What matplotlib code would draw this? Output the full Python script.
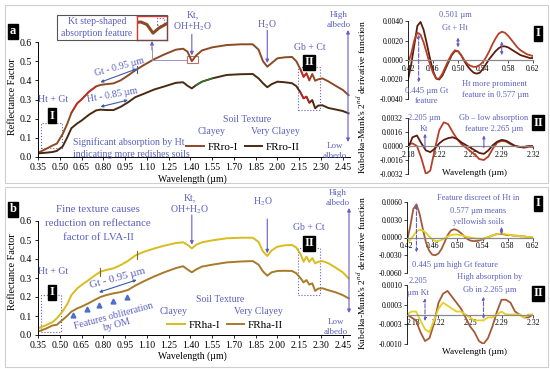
import numpy as np
import matplotlib.pyplot as plt
from matplotlib.patches import Rectangle, FancyArrowPatch
from matplotlib.lines import Line2D
from matplotlib.ticker import FormatStrFormatter

plt.rcParams['font.family'] = ['Liberation Serif', 'DejaVu Serif']
plt.rcParams['mathtext.fontset'] = 'stix'
plt.rcParams['axes.unicode_minus'] = False

W, H = 550, 369

# ---------------- data ----------------
wl = [0.35, 0.40, 0.45, 0.48, 0.52, 0.55, 0.58, 0.62, 0.65, 0.70, 0.75, 0.78, 0.82,
      0.87, 0.92, 0.97, 1.02, 1.08, 1.15, 1.22, 1.30, 1.35, 1.38, 1.41, 1.44, 1.48,
      1.55, 1.65, 1.75, 1.83, 1.87, 1.90, 1.93, 1.96, 2.00, 2.05, 2.10, 2.13, 2.16,
      2.18, 2.20, 2.22, 2.24, 2.26, 2.28, 2.31, 2.35, 2.40, 2.45, 2.49]
frro_1 = [0.022, 0.040, 0.060, 0.070, 0.120, 0.170, 0.230, 0.280, 0.300, 0.340, 0.368,
          0.376, 0.380, 0.384, 0.400, 0.425, 0.452, 0.480, 0.510, 0.535, 0.560, 0.565,
          0.550, 0.500, 0.530, 0.556, 0.572, 0.584, 0.588, 0.588, 0.560, 0.500, 0.471,
          0.490, 0.515, 0.520, 0.522, 0.500, 0.455, 0.418, 0.437, 0.400, 0.433, 0.398,
          0.405, 0.410, 0.395, 0.372, 0.350, 0.323]
frro_2 = [0.019, 0.022, 0.026, 0.032, 0.055, 0.100, 0.150, 0.175, 0.190, 0.220, 0.243,
          0.247, 0.245, 0.245, 0.262, 0.285, 0.312, 0.330, 0.352, 0.368, 0.387, 0.390,
          0.372, 0.358, 0.375, 0.393, 0.410, 0.428, 0.432, 0.433, 0.410, 0.385, 0.364,
          0.380, 0.393, 0.390, 0.385, 0.370, 0.335, 0.306, 0.315, 0.283, 0.297, 0.254,
          0.268, 0.270, 0.256, 0.248, 0.240, 0.228]
frha_1 = [0.035, 0.050, 0.068, 0.088, 0.125, 0.160, 0.210, 0.245, 0.263, 0.290, 0.318,
          0.333, 0.342, 0.351, 0.368, 0.390, 0.418, 0.438, 0.455, 0.470, 0.484, 0.488,
          0.475, 0.456, 0.475, 0.488, 0.498, 0.509, 0.512, 0.512, 0.490, 0.440, 0.416,
          0.445, 0.465, 0.472, 0.474, 0.460, 0.425, 0.386, 0.412, 0.385, 0.405, 0.377,
          0.385, 0.389, 0.378, 0.355, 0.330, 0.298]
frha_2 = [0.018, 0.032, 0.050, 0.054, 0.080, 0.100, 0.123, 0.140, 0.149, 0.168, 0.188,
          0.200, 0.210, 0.219, 0.226, 0.237, 0.260, 0.283, 0.308, 0.330, 0.352, 0.362,
          0.345, 0.330, 0.345, 0.360, 0.370, 0.382, 0.387, 0.389, 0.370, 0.335, 0.312,
          0.330, 0.337, 0.338, 0.337, 0.325, 0.298, 0.277, 0.289, 0.265, 0.272, 0.232,
          0.244, 0.246, 0.236, 0.225, 0.210, 0.193]

# second derivative (Kubelka-Munk), visible range, 5 nm step
wl_vis = np.round(np.arange(0.42, 0.6201, 0.005), 3)
km_ro_1 = [-0.0020, -0.0005, 0.0015, 0.0035, 0.0039, 0.0031, 0.0017, 0.0002, -0.0011,
           -0.0019, -0.0020, -0.0016, -0.0009, -0.0002, 0.0005, 0.0009, 0.0009, 0.0005,
           -0.0001, -0.0006, -0.0010, -0.0013, -0.0014, -0.0013, -0.0009, -0.0004,
           0.0001, 0.0005, 0.0009, 0.0012, 0.0014, 0.0014, 0.0013, 0.0011, 0.0009,
           0.0007, 0.0005, 0.0004, 0.0003, 0.0002, 0.0002]
km_ro_2 = [-0.0003, 0.0006, 0.0020, 0.0028, 0.0026, 0.0018, 0.0007, -0.0004, -0.0013,
           -0.0019, -0.0019, -0.0014, -0.0007, 0.0000, 0.0006, 0.0010, 0.0009, 0.0005,
           0.0000, -0.0004, -0.0006, -0.0007, -0.0007, -0.0005, -0.0002, 0.0003,
           0.0009, 0.0016, 0.0022, 0.0027, 0.0029, 0.0028, 0.0025, 0.0021, 0.0017,
           0.0013, 0.0010, 0.0008, 0.0006, 0.0005, 0.0004]
km_ha_1 = [-0.0006, 0.0018, 0.0048, 0.0056, 0.0040, 0.0015, -0.0008, -0.0022, -0.0029,
           -0.0030, -0.0027, -0.0019, -0.0007, 0.0005, 0.0012, 0.0014, 0.0012, 0.0008,
           0.0003, -0.0002, -0.0005, -0.0006, -0.0006, -0.0005, -0.0003, -0.0001,
           0.0001, 0.0003, 0.0005, 0.0006, 0.0006, 0.0005, 0.0004, 0.0004, 0.0003,
           0.0003, 0.0002, 0.0002, 0.0001, 0.0001, 0.0000]
km_ha_2 = [-0.0008, -0.0004, 0.0003, 0.0010, 0.0013, 0.0012, 0.0008, 0.0002, -0.0003,
           -0.0006, -0.0006, -0.0004, -0.0001, 0.0002, 0.0004, 0.0005, 0.0005, 0.0004,
           0.0003, 0.0001, 0.0000, -0.0001, -0.0002, -0.0002, -0.0002, -0.0001,
           0.0001, 0.0003, 0.0005, 0.0006, 0.0007, 0.0006, 0.0005, 0.0004, 0.0003,
           0.0003, 0.0002, 0.0002, 0.0001, 0.0001, 0.0001]

# second derivative, SWIR range, 5 nm step
wl_swir = np.round(np.arange(2.18, 2.3201, 0.005), 3)
km_ro_swir_1 = [0.0002, 0.0003, 0.0000, -0.0014, -0.0032, -0.0028, -0.0004, 0.0018,
                0.0027, 0.0025, 0.0016, 0.0008, 0.0002, -0.0002, -0.0006, -0.0010,
                -0.0015, -0.0016, -0.0012, -0.0003, 0.0004, 0.0006, 0.0005, 0.0002,
                0.0000, -0.0001, -0.0002, -0.0001, -0.0001]
km_ro_swir_2 = [-0.0003, 0.0010, 0.0012, 0.0003, -0.0005, -0.0007, -0.0003, 0.0003,
                0.0007, 0.0009, 0.0010, 0.0008, 0.0004, 0.0001, -0.0002, -0.0005,
                -0.0008, -0.0009, -0.0005, 0.0001, 0.0005, 0.0007, 0.0006, 0.0003,
                0.0000, -0.0001, -0.0001, 0.0000, 0.0000]
km_ha_swir_1 = [0.0000, -0.0001, -0.0002, -0.0006, -0.0009, -0.0008, -0.0003, 0.0004,
                0.0007, 0.0008, 0.0006, 0.0004, 0.0002, -0.0001, -0.0004, -0.0006,
                -0.0009, -0.0010, -0.0008, -0.0004, 0.0001, 0.0005, 0.0005, 0.0004,
                0.0001, 0.0000, -0.0001, -0.0001, 0.0000]
km_ha_swir_2 = [0.0000, 0.0001, 0.0001, -0.0002, -0.0005, -0.0006, -0.0002, 0.0002,
                0.0004, 0.0003, 0.0002, 0.0001, 0.0001, 0.0000, -0.0001, -0.0002,
                -0.0002, -0.0002, -0.0001, -0.0001, 0.0000, 0.0001, 0.0000, 0.0000,
                0.0000, 0.0000, -0.0001, 0.0000, 0.0000]

wl_ticks = [0.35, 0.50, 0.65, 0.80, 0.95, 1.10, 1.25, 1.40, 1.55, 1.70, 1.85, 2.00,
            2.15, 2.30, 2.45]

# colours
C_RO1, C_RO2 = '#8c4a24', '#4a2a12'
C_HA1, C_HA2 = '#d8bc1c', '#a87a28'
C_D1, C_D2 = '#5e1c0c', '#b5402a'
C_B1, C_B2 = '#a45a3a', '#e6d020'
TXT = '#5a5fbf'
ARR = '#6a5cc4'


def box(x0, y0, x1, y1):
    return [x0 / W, 1 - y1 / H, (x1 - x0) / W, (y1 - y0) / H]


def F(x, y):
    return (x / W, 1 - y / H)


fig = plt.figure(figsize=(5.5, 3.69), dpi=100)


def ftext(x, y, s, size=7, color=TXT, **kw):
    kw.setdefault('ha', 'center')
    fig.text(x / W, 1 - y / H, s, fontsize=size, color=color, va='center', **kw)


def tag(x, y, s):
    fig.text(x / W, 1 - y / H, s, fontsize=9, color='white', weight='bold',
             ha='center', va='center',
             bbox=dict(boxstyle='square,pad=0.12', fc='black', ec='black'))


def farrow(x0, y0, x1, y1, style='-|>', ls='-', ms=5):
    fig.add_artist(FancyArrowPatch(
        F(x0, y0), F(x1, y1), transform=fig.transFigure, arrowstyle=style,
        linestyle=ls, color=ARR, lw=0.8, mutation_scale=ms, shrinkA=0, shrinkB=0))


def darrow(ax, p0, p1, style='-|>', ls='-', color=ARR, ms=5):
    ax.annotate('', xy=p1, xytext=p0, annotation_clip=False,
                arrowprops=dict(arrowstyle=style, linestyle=ls, color=color, lw=0.8,
                                mutation_scale=ms, shrinkA=0, shrinkB=0))


def style_main(ax):
    ax.set_xlim(0.35, 2.5)
    ax.set_ylim(0, 0.6)
    ax.spines[['top', 'right']].set_visible(False)
    ax.set_xticks(wl_ticks)
    ax.xaxis.set_major_formatter(FormatStrFormatter('%.2f'))
    ax.set_yticks(np.arange(0, 0.61, 0.1))
    ax.yaxis.set_major_formatter(FormatStrFormatter('%.1f'))
    ax.tick_params(labelsize=7, length=2.5, width=0.6, pad=2)
    for s in ax.spines.values():
        s.set_linewidth(0.7)


def style_deriv(ax, xt, xlabels, yt, fmt='%.4f'):
    ax.spines[['top', 'right']].set_visible(False)
    ax.spines['bottom'].set_position(('data', 0))
    ax.spines['bottom'].set_color('#8a8a8a')
    ax.spines['bottom'].set_linewidth(0.9)
    ax.spines['left'].set_linewidth(0.6)
    ax.set_xticks(xt)
    ax.set_xticklabels(xlabels)
    ax.set_yticks(yt)
    ax.yaxis.set_major_formatter(FormatStrFormatter(fmt))
    ax.tick_params(labelsize=5.6, length=2, width=0.5, pad=1.5)
    ax.set_xlim(xt[0], xt[-1])
    ax.patch.set_alpha(0)


wl_a = np.array(wl)

# ---------------- panel a ----------------
ax = fig.add_axes(box(38, 42, 350, 157))
style_main(ax)
ax.plot(wl, frro_1, color=C_RO1, lw=1.4, label='FRro-I')
ax.plot(wl, frro_2, color=C_RO2, lw=1.4, label='FRro-II')
m = (wl_a >= 0.58) & (wl_a <= 0.75)
ax.plot(wl_a[m], np.array(frro_1)[m], color='#d02020', lw=1.0)
m = (wl_a >= 2.16) & (wl_a <= 2.22)
ax.plot(wl_a[m], np.array(frro_1)[m], color='#d02020', lw=1.0)
ax.plot(wl_a[m], np.array(frro_2)[m], color='#d02020', lw=1.0)
m = (wl_a >= 1.44) & (wl_a <= 1.55)
ax.plot(wl_a[m], np.array(frro_2)[m], color='#2f7a2f', lw=1.0)
ax.legend(ncol=2, loc='center', bbox_to_anchor=F(243, 147), bbox_transform=fig.transFigure,
          frameon=False, fontsize=8, handlelength=1.6, handletextpad=0.3, columnspacing=0.6)
ax.add_patch(Rectangle((1.375, 0.49), 0.075, 0.035, fill=False, ec='#c07070', lw=0.8))
ax.add_patch(Rectangle((2.145, 0.245), 0.15, 0.225, fill=False, ec=ARR, lw=0.8, ls=':'))
ax.add_patch(Rectangle((0.37, 0.047), 0.145, 0.13, fill=False, ec=ARR, lw=0.8, ls=':'))
darrow(ax, (1.41, 0.64), (1.41, 0.53))
darrow(ax, (1.93, 0.66), (1.93, 0.49))
darrow(ax, (0.78, 0.39), (1.03, 0.46), style='<|-|>', color='#3a5aa8', ms=4)
ax.plot([1.03, 1.03], [0.44, 0.475], color='#3a5aa8', lw=0.8)
darrow(ax, (0.78, 0.262), (0.97, 0.297), style='<|-|>', color='#3a5aa8', ms=4)
ax.text(0.91, 0.47, 'Gt - 0.95 µm', rotation=15, fontsize=7, color=TXT, ha='center', va='center')
ax.text(0.86, 0.325, 'Ht - 0.85 µm', rotation=10, fontsize=7, color=TXT, ha='center', va='center')

tag(13, 31, 'a')
fig.add_artist(Rectangle((57 / W, 1 - 40 / H), 110 / W, 25 / H, transform=fig.transFigure,
                         fill=False, ec='#555555', lw=0.8))
ftext(97, 21, 'Kt step-shaped')
ftext(97, 33, 'absorption feature')
axin = fig.add_axes(box(137, 16, 167, 40))
axin.plot(wl, frro_1, color=C_RO1, lw=2.2)
axin.set_xlim(1.33, 1.48)
axin.set_ylim(0.46, 0.60)
axin.set_xticks([])
axin.set_yticks([])
for s in axin.spines.values():
    s.set_color('#e03030')
    s.set_linewidth(1.0)
axin.add_patch(Rectangle((1.43, 0.55), 0.035, 0.04, fill=False, ec='#7060c0', ls=':', lw=0.8))
fig.add_artist(Line2D([152 / W, 152 / W, 186 / W], [1 - 48 / H, 1 - 60 / H, 1 - 60 / H],
                      transform=fig.transFigure, color='#9a90c8', lw=0.7))
farrow(152, 50, 152, 41, ms=5)

ftext(193, 15, 'Kt,')
ftext(193, 27, 'OH+H$_2$O')
ftext(267, 25, 'H$_2$O')
ftext(310, 47, 'Gb + Ct')
tag(309, 62, 'II')
ftext(339, 15, 'High', size=6.5)
ftext(339, 25, 'albedo', size=6.5)
farrow(348, 142, 348, 30, style='<|-|>', ms=5)
ftext(335, 146, 'Low', size=6.5)
ftext(335, 156, 'albedo', size=6.5)
ftext(247, 119, 'Soil Texture')
ftext(212, 131, 'Clayey')
ftext(275, 131, 'Very Clayey')
ftext(53, 99, 'Ht + Gt')
tag(52, 116, 'I')
ftext(73, 142, 'Significant absorption by Ht', ha='left')
ftext(73, 154, 'indicating more redishes soils', ha='left')
ftext(13, 97, 'Reflectance Factor', size=7.3, color='black', rotation=90)
ftext(192, 179, 'Wavelength (µm)', size=7, color='black')

# ---------------- panel b ----------------
ax = fig.add_axes(box(38, 221, 350, 335))
style_main(ax)
ax.plot(wl, frha_1, color=C_HA1, lw=1.4, label='FRha-I')
ax.plot(wl, frha_2, color=C_HA2, lw=1.4, label='FRha-II')
ax.legend(ncol=2, loc='center', bbox_to_anchor=F(225, 325), bbox_transform=fig.transFigure,
          frameon=False, fontsize=8, handlelength=1.6, handletextpad=0.3, columnspacing=0.6)
ax.add_patch(Rectangle((2.145, 0.21), 0.15, 0.248, fill=False, ec=ARR, lw=0.8, ls=':'))
ax.add_patch(Rectangle((0.37, 0.016), 0.14, 0.194, fill=False, ec=ARR, lw=0.8, ls=':'))
darrow(ax, (1.41, 0.632), (1.41, 0.475))
darrow(ax, (1.93, 0.61), (1.93, 0.43))
darrow(ax, (0.77, 0.225), (1.03, 0.29), style='<|-|>', color='#3a5aa8', ms=4)
ax.plot([0.78, 0.78], [0.31, 0.355], color='#7a6a30', lw=0.8)
ax.plot([1.03, 1.03], [0.40, 0.44], color='#7a6a30', lw=0.8)
ax.text(0.90, 0.30, 'Gt - 0.95 µm', rotation=15, fontsize=8, color=TXT, ha='center', va='center')
ax.text(0.88, 0.075, 'Features obliteration\nby OM', rotation=15, fontsize=7, color=TXT,
        ha='center', va='center', linespacing=1.1)
boats_x = [0.59, 0.69, 0.77, 0.87, 0.96]
boats_y = [0.105, 0.135, 0.158, 0.179, 0.200]
ax.plot(boats_x, boats_y, ls='none', marker='^', ms=3.5, color='#4a6fd0')

tag(13, 209, 'b')
ftext(98, 209, 'Fine texture causes', size=7.8)
ftext(98, 224, 'reduction on reflectance', size=7.8)
ftext(98, 238, 'factor of LVA-II', size=7.8)
ftext(190, 198, 'Kt,')
ftext(190, 210, 'OH+H$_2$O')
ftext(263, 202, 'H$_2$O')
ftext(309, 228, 'Gb + Ct')
tag(309, 243, 'II')
ftext(338, 193, 'High', size=6.5)
ftext(338, 203, 'albedo', size=6.5)
farrow(349, 313, 349, 208, style='<|-|>', ms=5)
ftext(336, 322, 'Low', size=6.5)
ftext(336, 332, 'albedo', size=6.5)
ftext(220, 300, 'Soil Texture')
ftext(174, 311, 'Clayey')
ftext(258, 312, 'Very Clayey')
ftext(53, 272, 'Ht + Gt')
tag(52, 292, 'I')
ftext(13, 272, 'Reflectance Factor', size=7.3, color='black', rotation=90)
ftext(192, 356, 'Wavelength (µm)', size=7, color='black')

# ---------------- derivative panels ----------------
vis_ticks = [0.42, 0.46, 0.50, 0.54, 0.58, 0.62]
vis_labels = ['0.42', '0.46', '0.50', '0.54', '0.58', '0.62']
swir_ticks = [2.18, 2.215, 2.25, 2.285, 2.32]
swir_labels = ['2.18', '2.22', '2.25', '2.29', '2.32']

ax = fig.add_axes(box(408, 21, 533, 99))
ax.plot(wl_vis, km_ro_1, color=C_D1, lw=1.3)
ax.plot(wl_vis, km_ro_2, color=C_D2, lw=1.3)
ax.set_ylim(-0.004, 0.004)
style_deriv(ax, vis_ticks, vis_labels, [-0.004, -0.002, 0, 0.002, 0.004])
darrow(ax, (0.437, -0.0023), (0.437, 0.0026), style='<|-|>', ls='--', ms=4)
darrow(ax, (0.50, 0.0013), (0.50, 0.0023), style='<|-|>', ms=4)
darrow(ax, (0.57, 0.0005), (0.57, 0.0019), style='<|-|>', ms=4)

ax = fig.add_axes(box(408, 118, 533, 174))
ax.plot(wl_swir, km_ro_swir_1, color=C_D2, lw=1.3)
ax.plot(wl_swir, km_ro_swir_2, color=C_D1, lw=1.3)
ax.set_ylim(-0.0032, 0.0032)
style_deriv(ax, swir_ticks, swir_labels, [-0.0032, -0.0016, 0, 0.0016, 0.0032])
darrow(ax, (2.199, -0.0002), (2.199, 0.0014), ms=4)
darrow(ax, (2.265, -0.0002), (2.265, 0.0012), ms=4)

ftext(455, 15, '0.501 µm', size=6)
ftext(455, 28, 'Gt + Ht', size=6)
tag(538, 33, 'I')
ftext(427, 91, '0.445 µm Gt', size=6)
ftext(427, 101, 'feature', size=6)
ftext(495, 84, 'Ht more prominent', size=6)
ftext(495, 95, 'feature in 0.577 µm', size=6)
ftext(424, 118, '2.205 µm', size=6)
ftext(424, 129, 'Kt', size=6)
ftext(494, 118, 'Gb – low absorption', size=6)
ftext(494, 129, 'feature 2.265 µm', size=6)
tag(538, 123, 'II')
ftext(475, 173, 'Wavelength (µm)', size=6.7, color='black')
ftext(362, 97, "Kubelka-Munk's 2$^{nd}$ derivative function", size=6.8, color='black',
      rotation=90)

ax = fig.add_axes(box(407, 202, 533, 273))
ax.plot(wl_vis, km_ha_1, color=C_B1, lw=1.3)
ax.plot(wl_vis, km_ha_2, color=C_B2, lw=1.3)
ax.set_ylim(-0.006, 0.006)
style_deriv(ax, vis_ticks, vis_labels, [-0.006, -0.003, 0, 0.003, 0.006])
darrow(ax, (0.435, -0.0025), (0.435, 0.0055), style='<|-|>', ls='--', ms=4)
darrow(ax, (0.57, 0.0005), (0.57, 0.0018), style='<|-|>', ms=4)

ax = fig.add_axes(box(407, 285, 533, 344))
ax.plot(wl_swir, km_ha_swir_1, color=C_B1, lw=1.3)
ax.plot(wl_swir, km_ha_swir_2, color=C_B2, lw=1.3)
ax.set_ylim(-0.001, 0.001)
style_deriv(ax, swir_ticks, swir_labels, [-0.001, -0.001 / 3, 0.001 / 3, 0.001])
ax.get_xticklabels()[0].set_ha('left')
darrow(ax, (2.20, -0.00022), (2.20, 0.00055), style='<|-|>', ls='--', ms=4)
darrow(ax, (2.265, -0.00015), (2.265, 0.0006), style='<|-|>', ls='--', ms=4)

ftext(478, 198, 'Feature discreet of Ht in', size=6)
ftext(478, 211, '0.577 µm means', size=6)
ftext(478, 222, 'yellowish soils', size=6)
tag(538, 203, 'I')
ftext(455, 265, '0.445 µm high Gt feature', size=6)
ftext(418, 281, '2.205', size=6)
ftext(418, 293, 'µm Kt', size=6)
ftext(490, 277, 'High absorption by', size=6)
ftext(490, 290, 'Gb in 2.265 µm', size=6)
tag(538, 293, 'II')
ftext(475, 352, 'Wavelength (µm)', size=6.7, color='black')
ftext(362, 273, "Kubelka-Munk's 2$^{nd}$ derivative function", size=6.8, color='black',
      rotation=90)

# row frames
for y0, y1 in [(5, 183), (187, 367)]:
    fig.add_artist(Rectangle((5 / W, 1 - y1 / H), 543 / W, (y1 - y0) / H,
                             transform=fig.transFigure, fill=False, ec='#cfcfcf', lw=0.8))

fig.savefig('out.png', dpi=100)
